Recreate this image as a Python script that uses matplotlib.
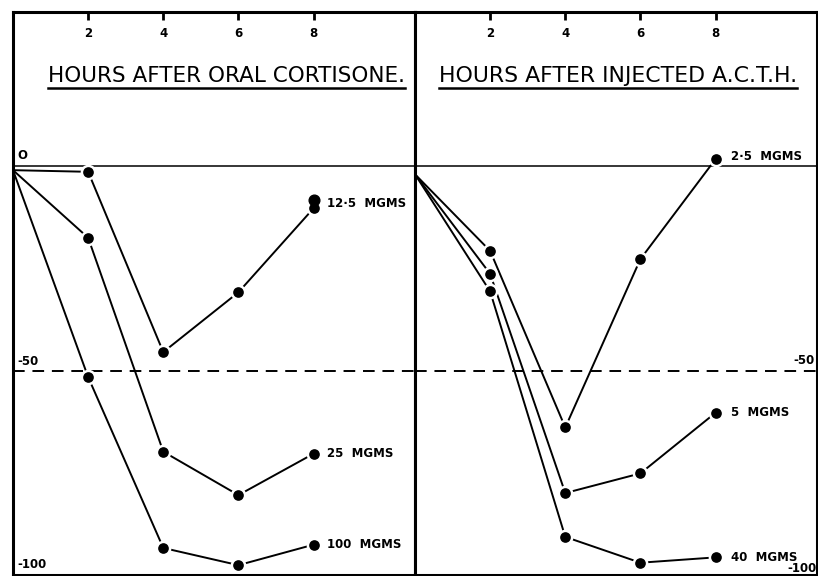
import numpy as np
import matplotlib
matplotlib.use("Agg")
import matplotlib.pyplot as plt

# hours after dose
hours = [0, 2, 4, 6, 8]

# percentage change, oral cortisone
cort_12_5 = [-1, -1.4, -45.4, -30.8, -10.3]
cort_12_5_extra = [-8.3]
cort_25 = [-1, -17.5, -69.7, -80.3, -70.2]
cort_100 = [-1, -51.5, -93.2, -97.4, -92.4]

# percentage change, injected ACTH
acth_2_5 = [-2, -20.7, -63.8, -22.7, 1.7]
acth_5 = [-2, -26.3, -79.8, -75.0, -60.2]
acth_40 = [-2, -30.6, -90.5, -96.8, -95.5]

left_labels = ["12\u00b75  MGMS", "25  MGMS", "100  MGMS"]
right_labels = ["2\u00b75  MGMS", "5  MGMS", "40  MGMS"]
xticks = [2, 4, 6, 8]

W, H = 818, 576
fig = plt.figure(figsize=(W / 100, H / 100), dpi=100)
fig.patch.set_facecolor("white")

def px_axes(x0, x1, y0, y1):
    return fig.add_axes([x0 / W, 1 - y1 / H, (x1 - x0) / W, (y1 - y0) / H])

ax1 = px_axes(13, 415, 12, 575)
ax2 = px_axes(415, 817, 12, 575)

XMAX = 10.7
YMIN, YMAX = -99.8, 37.6

def style(ax):
    ax.set_xlim(0, XMAX)
    ax.set_ylim(YMIN, YMAX)
    ax.set_yticks([])
    ax.set_xticks(xticks)
    ax.set_xticklabels([str(t) for t in xticks], fontsize=8.5, fontweight="bold")
    ax.xaxis.tick_top()
    ax.tick_params(axis="x", direction="in", length=6, width=2, pad=-20,
                   bottom=False, labelbottom=False)
    for s in ax.spines.values():
        s.set_linewidth(2.2)
    ax.axhline(0, color="black", lw=1.1)
    ax.axhline(-50, color="black", lw=1.4, ls=(0, (6, 4)))

def series(ax, y):
    # no marker at the starting point
    ax.plot(hours, y, color="black", lw=1.4, marker="o", markersize=9.5,
            markevery=[1, 2, 3, 4], markerfacecolor="black",
            markeredgecolor="white", markeredgewidth=1.8, zorder=3)

style(ax1)
style(ax2)

for y in (cort_12_5, cort_25, cort_100):
    series(ax1, y)
ax1.plot([8] * len(cort_12_5_extra), cort_12_5_extra, "o", color="black",
         markersize=7.7, zorder=4)
for y in (acth_2_5, acth_5, acth_40):
    series(ax2, y)

lab = dict(fontsize=8.5, fontweight="bold", va="center", ha="left")
for y, t in zip((cort_12_5, cort_25, cort_100), left_labels):
    ax1.text(8.35, y[-1] + (1.2 if y is cort_12_5 else 0), t, **lab)
for y, t in zip((acth_2_5, acth_5, acth_40), right_labels):
    ax2.text(8.4, y[-1] + (0.6 if y is acth_2_5 else 0), t, **lab)

# axis values written inside the frame
num = dict(fontsize=8.5, fontweight="bold")
ax1.text(0.12, 1.8, "O", va="baseline", ha="left", **num)
ax1.text(0.12, -48.6, "-50", va="baseline", ha="left", **num)
ax1.text(0.12, -97.3, "-100", va="center", ha="left", **num)
ax2.text(10.65, -48.3, "-50", va="baseline", ha="right", **num)
ax2.text(10.7, -98.3, "-100", va="center", ha="right", **num)

# underlined panel headings
t1 = ax1.text(0.531, 0.887, "HOURS AFTER ORAL CORTISONE.", transform=ax1.transAxes,
              fontsize=15.5, ha="center", va="center")
t2 = ax2.text(0.505, 0.887, "HOURS AFTER INJECTED A.C.T.H.", transform=ax2.transAxes,
              fontsize=15.8, ha="center", va="center")
fig.canvas.draw()
r = fig.canvas.get_renderer()
for ax, t in ((ax1, t1), (ax2, t2)):
    bb = t.get_window_extent(r).transformed(ax.transAxes.inverted())
    ax.plot([bb.x0, bb.x1], [bb.y0 - 0.004] * 2, color="black", lw=1.8,
            transform=ax.transAxes, clip_on=False)

fig.savefig("out.png", dpi=100)
